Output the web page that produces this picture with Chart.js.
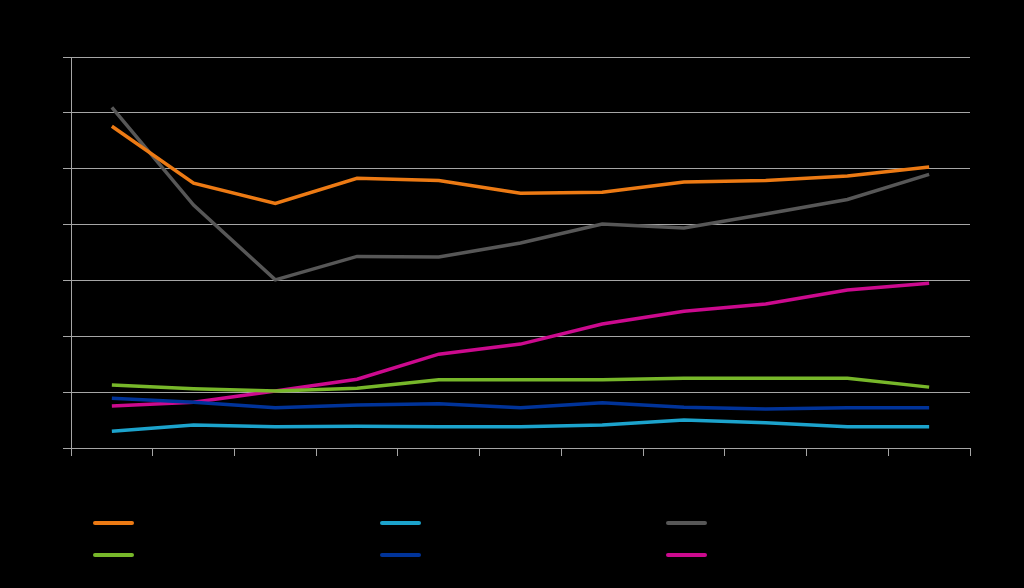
<!DOCTYPE html>
<html>
<head>
<meta charset="utf-8">
<script src="https://cdn.jsdelivr.net/npm/chart.js@4"></script>
<style>
  html, body { margin: 0; padding: 0; background: #000; }
  #wrap { width: 1024px; height: 588px; }
</style>
</head>
<body>
<div id="wrap"><canvas id="myChart" width="1024" height="588"></canvas></div>
<script>
var categories = ['1', '2', '3', '4', '5', '6', '7', '8', '9', '10', '11'];
var seriesNames = ['Series 1', 'Series 2', 'Series 3', 'Series 4', 'Series 5', 'Series 6'];
var orangeValues = [57.6, 47.4, 43.8, 48.3, 47.9, 45.6, 45.8, 47.6, 47.9, 48.7, 50.3];
var cyanValues = [3.0, 4.1, 3.8, 3.9, 3.8, 3.8, 4.1, 5.0, 4.5, 3.8, 3.8];
var grayValues = [61.0, 43.5, 30.1, 34.3, 34.2, 36.7, 40.1, 39.4, 41.9, 44.5, 49.0];
var greenValues = [11.3, 10.6, 10.2, 10.7, 12.2, 12.2, 12.2, 12.5, 12.5, 12.5, 10.9];
var blueValues = [8.9, 8.2, 7.2, 7.7, 7.9, 7.2, 8.1, 7.3, 7.0, 7.2, 7.2];
var magentaValues = [7.5, 8.2, 10.2, 12.3, 16.8, 18.6, 22.2, 24.5, 25.8, 28.3, 29.5];
var yTicks = [0, 10, 20, 30, 40, 50, 60, 70];

var colors = ['#EC7A14', '#1CA3CC', '#575757', '#77B72A', '#003399', '#CC0A8E'];
var allValues = [orangeValues, cyanValues, grayValues, greenValues, blueValues, magentaValues];

var datasets = allValues.map(function (vals, i) {
    return {
        label: seriesNames[i],
        data: vals,
        borderColor: colors[i],
        backgroundColor: colors[i],
        borderWidth: 3.5,
        pointRadius: 0,
        tension: 0,
        fill: false
    };
});

// legend drawn by hand: 3 columns x 2 rows
var legendPlugin = {
    id: 'gridLegend',
    afterDraw: function (chart) {
        var ctx = chart.ctx;
        var cols = [93, 380, 666];
        var rows = [523, 555];
        ctx.save();
        ctx.lineCap = 'round';
        ctx.lineWidth = 4;
        chart.data.datasets.forEach(function (ds, i) {
            var x = cols[i % 3];
            var y = rows[Math.floor(i / 3)];
            ctx.strokeStyle = ds.borderColor;
            ctx.beginPath();
            ctx.moveTo(x + 2, y);
            ctx.lineTo(x + 39, y);
            ctx.stroke();
            ctx.fillStyle = '#000';
            ctx.font = '14px "Liberation Sans"';
            ctx.textBaseline = 'middle';
            ctx.fillText(ds.label, x + 48, y);
        });
        ctx.restore();
    }
};

var canvas = document.getElementById('myChart');
new Chart(canvas, {
    type: 'line',
    data: {
        labels: categories,
        datasets: datasets
    },
    plugins: [legendPlugin],
    options: {
        responsive: false,
        animation: false,
        layout: {
            padding: { left: 63, right: 54, top: 57, bottom: 132 }
        },
        plugins: {
            legend: { display: false },
            tooltip: { enabled: false }
        },
        scales: {
            x: {
                offset: true,
                grid: {
                    display: true,
                    drawOnChartArea: false,
                    drawTicks: true,
                    tickLength: 8,
                    color: '#a6a6a6',
                    offset: true
                },
                border: { color: '#a6a6a6', width: 1 },
                ticks: { display: false }
            },
            y: {
                min: 0,
                max: 70,
                afterBuildTicks: function (axis) {
                    axis.ticks = yTicks.map(function (v) { return { value: v }; });
                },
                grid: {
                    color: '#a6a6a6',
                    drawTicks: true,
                    tickLength: 8
                },
                border: { color: '#a6a6a6', width: 1 },
                ticks: { display: false }
            }
        }
    }
});
</script>
</body>
</html>
